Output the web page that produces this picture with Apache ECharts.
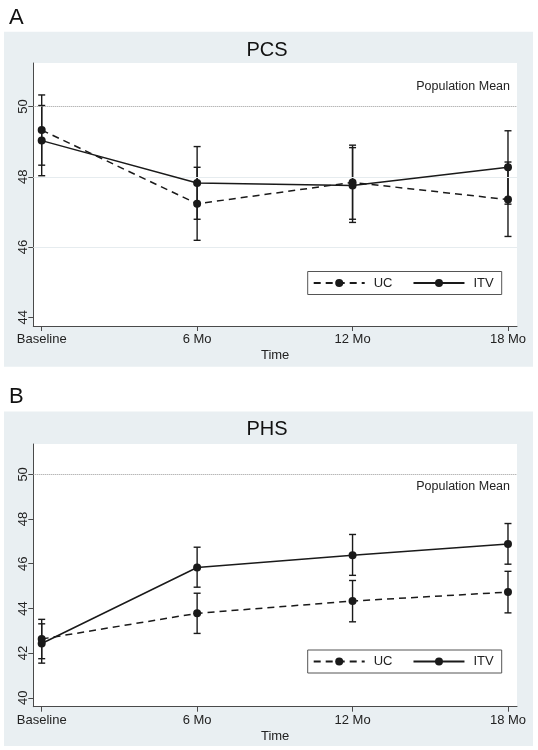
<!DOCTYPE html>
<html>
<head>
<meta charset="utf-8">
<script src="https://cdn.jsdelivr.net/npm/echarts@6/dist/echarts.min.js"></script>
<style>
html,body{margin:0;padding:0;background:#fff;}
#chart{width:538px;height:750px;}
</style>
</head>
<body>
<div id="chart"></div>
<script>
// ---- data ----
const categories = ['Baseline', '6 Mo', '12 Mo', '18 Mo'];
const timeIndex = [0, 1, 2, 3];

const pcsUC      = [49.33, 47.23, 47.84, 47.35];
const pcsUCLow   = [48.33, 46.19, 46.79, 46.30];
const pcsUCHigh  = [50.33, 48.27, 48.90, 48.42];
const pcsITV     = [49.03, 47.82, 47.75, 48.27];
const pcsITVLow  = [48.03, 46.79, 46.70, 47.22];
const pcsITVHigh = [50.03, 48.86, 48.83, 49.31];

const phsUC      = [42.63, 43.78, 44.33, 44.73];
const phsUCLow   = [41.75, 42.88, 43.40, 43.80];
const phsUCHigh  = [43.51, 44.68, 45.25, 45.66];
const phsITV     = [42.43, 45.83, 46.38, 46.88];
const phsITVLow  = [41.55, 44.95, 45.48, 45.98];
const phsITVHigh = [43.31, 46.74, 47.31, 47.80];

const pcsTicks = [44, 46, 48, 50];
const phsTicks = [40, 42, 44, 46, 48, 50];
const pcsGrid = [48, 46];
const populationMean = 50;

// ---- helpers ----
const FONT = '"Liberation Sans", Arial, sans-serif';
const INK = '#1a1a1a';
const AXIS = '#4a4a4a';

function pts(vals) { return timeIndex.map((t, i) => [t, vals[i]]); }
function bars(lo, hi) { return timeIndex.map((t, i) => [t, lo[i], hi[i]]); }

function renderErr(params, api) {
  const x = api.value(0);
  const p1 = api.coord([x, api.value(1)]);
  const p2 = api.coord([x, api.value(2)]);
  const w = 3.5;
  const st = { stroke: INK, lineWidth: 1.4 };
  return {
    type: 'group',
    children: [
      { type: 'line', shape: { x1: p1[0], y1: p1[1], x2: p2[0], y2: p2[1] }, style: st },
      { type: 'line', shape: { x1: p1[0] - w, y1: p1[1], x2: p1[0] + w, y2: p1[1] }, style: st },
      { type: 'line', shape: { x1: p2[0] - w, y1: p2[1], x2: p2[0] + w, y2: p2[1] }, style: st }
    ]
  };
}

function xAxis(gridIndex) {
  return {
    type: 'value', gridIndex: gridIndex, min: -0.054, max: 3.058,
    name: 'Time', nameLocation: 'middle', nameGap: 23,
    nameTextStyle: { fontFamily: FONT, fontSize: 13, color: '#222' },
    axisLine: { show: true, onZero: false, lineStyle: { color: AXIS, width: 1 } },
    axisTick: { show: true, length: 5, customValues: timeIndex, lineStyle: { color: AXIS } },
    axisLabel: {
      customValues: timeIndex, margin: 7,
      fontFamily: FONT, fontSize: 13, color: '#222',
      formatter: v => categories[Math.round(v)]
    },
    splitLine: { show: false }
  };
}

function yAxis(gridIndex, min, max, ticks) {
  return {
    type: 'value', gridIndex: gridIndex, min: min, max: max,
    axisLine: { show: true, onZero: false, lineStyle: { color: AXIS, width: 1 } },
    axisTick: { show: true, length: 5, customValues: ticks, lineStyle: { color: AXIS } },
    axisLabel: {
      customValues: ticks, rotate: 90, margin: 3.5,
      fontFamily: FONT, fontSize: 13, color: '#222'
    },
    splitLine: { show: false }
  };
}

function lineSeries(name, vals, dashed, gi, markLine) {
  const s = {
    type: 'line', name: name, xAxisIndex: gi, yAxisIndex: gi,
    data: pts(vals), symbol: 'circle', symbolSize: 8,
    itemStyle: { color: INK },
    lineStyle: { color: INK, width: 1.5, type: dashed ? [7, 5] : 'solid' },
    z: 5, silent: true, animation: false
  };
  if (markLine) s.markLine = markLine;
  return s;
}

function errSeries(name, lo, hi, gi) {
  return {
    type: 'custom', name: name, xAxisIndex: gi, yAxisIndex: gi,
    data: bars(lo, hi), renderItem: renderErr, z: 4, silent: true, animation: false
  };
}

function meanLine(gridVals, above) {
  const data = gridVals.map(v => ({
    yAxis: v, label: { show: false },
    lineStyle: { color: '#e6ecef', width: 1, type: 'solid' }
  }));
  data.push({
    yAxis: populationMean,
    lineStyle: { color: '#9a9a9a', width: 1, type: [1, 1] },
    label: {
      show: true, formatter: 'Population Mean',
      position: above ? 'insideEndTop' : 'insideEndBottom',
      distance: above ? [7, 13] : [7, 6],
      fontFamily: FONT, fontSize: 12.5, color: '#222'
    }
  });
  return { silent: true, symbol: 'none', animation: false, data: data };
}

function legend(top) {
  return {
    left: 307.7, top: top, orient: 'horizontal',
    data: [{ name: 'UC' }, { name: 'ITV' }],
    itemWidth: 51, itemHeight: 10, itemGap: 20,
    padding: [5, 8, 5, 5],
    borderColor: '#555', borderWidth: 1, borderRadius: 0,
    backgroundColor: '#fff',
    textStyle: { fontFamily: FONT, fontSize: 13, color: '#222', padding: [0, 0, 0, 4] },
    selectedMode: false
  };
}

const chart = echarts.init(document.getElementById('chart'), null, { renderer: 'canvas' });

chart.setOption({
  animation: false,
  backgroundColor: '#fff',
  graphic: [
    { type: 'rect', shape: { x: 4, y: 31.7, width: 529, height: 335 }, style: { fill: '#e9eff2' }, z: -10 },
    { type: 'rect', shape: { x: 4, y: 411.5, width: 529, height: 334.5 }, style: { fill: '#e9eff2' }, z: -10 }
  ],
  title: [
    { text: 'A', left: 4, top: 2, textStyle: { fontFamily: FONT, fontSize: 22, fontWeight: 'normal', color: '#111' } },
    { text: 'PCS', left: 262, top: 35, textAlign: 'center', textStyle: { fontFamily: FONT, fontSize: 20, fontWeight: 'normal', color: '#111' } },
    { text: 'B', left: 4, top: 381, textStyle: { fontFamily: FONT, fontSize: 22, fontWeight: 'normal', color: '#111' } },
    { text: 'PHS', left: 262, top: 414, textAlign: 'center', textStyle: { fontFamily: FONT, fontSize: 20, fontWeight: 'normal', color: '#111' } }
  ],
  legend: [legend(271.5), legend(650)],
  grid: [
    { left: 33.3, top: 63, width: 483.7, height: 263, show: true, backgroundColor: '#fff', borderWidth: 0 },
    { left: 33.3, top: 444, width: 483.7, height: 262.7, show: true, backgroundColor: '#fff', borderWidth: 0 }
  ],
  xAxis: [xAxis(0), xAxis(1)],
  yAxis: [yAxis(0, 43.75, 51.24, pcsTicks), yAxis(1, 39.6, 51.36, phsTicks)],
  series: [
    errSeries('UC CI A', pcsUCLow, pcsUCHigh, 0),
    errSeries('ITV CI A', pcsITVLow, pcsITVHigh, 0),
    lineSeries('UC', pcsUC, true, 0, meanLine(pcsGrid, true)),
    lineSeries('ITV', pcsITV, false, 0),
    errSeries('UC CI B', phsUCLow, phsUCHigh, 1),
    errSeries('ITV CI B', phsITVLow, phsITVHigh, 1),
    lineSeries('UC', phsUC, true, 1, meanLine([], false)),
    lineSeries('ITV', phsITV, false, 1)
  ]
});
</script>
</body>
</html>
